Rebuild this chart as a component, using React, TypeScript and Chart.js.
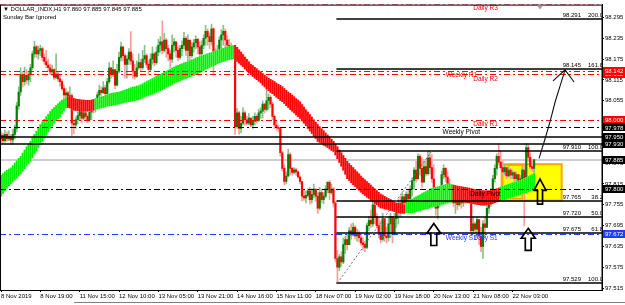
import React, { useEffect, useRef } from 'react';
import { Chart, registerables } from 'chart.js';

Chart.register(...registerables);

// ---------------- DATA ----------------
const firstOpen = 97.945;

const closes = [
  97.955, 97.940, 97.958, 97.945, 97.952, 97.942, 97.958, 97.975, 98.040, 98.080,
  98.130, 98.110, 98.128, 98.115, 98.130, 98.150, 98.190, 98.210, 98.190, 98.200,
  98.205, 98.180, 98.168, 98.158, 98.150, 98.138, 98.145, 98.122, 98.132, 98.118,
  98.110, 98.090, 98.072, 98.078, 98.060, 98.070, 97.990, 97.985, 98.000, 98.012,
  98.030, 98.005, 98.020, 98.010, 98.000, 98.022, 98.035, 98.030, 98.052, 98.072,
  98.085, 98.078, 98.092, 98.075, 98.110, 98.150, 98.130, 98.145, 98.100, 98.140,
  98.180, 98.210, 98.185, 98.160, 98.175, 98.195, 98.170, 98.140, 98.125, 98.150,
  98.165, 98.150, 98.175, 98.185, 98.160, 98.145, 98.175, 98.190, 98.165, 98.195,
  98.215, 98.225, 98.200, 98.230, 98.205, 98.190, 98.175, 98.215, 98.225, 98.200,
  98.180, 98.205, 98.215, 98.235, 98.200, 98.230, 98.185, 98.210, 98.222, 98.232,
  98.210, 98.190, 98.215, 98.235, 98.255, 98.240, 98.225, 98.262, 98.160, 98.175,
  98.200, 98.230, 98.245, 98.255, 98.230, 98.215, 98.210, 98.198, 98.185, 97.980,
  98.020, 97.975, 97.990, 98.020, 98.000, 97.990, 98.005, 97.985, 97.995, 98.010,
  97.998, 98.020, 98.025, 98.045, 98.030, 98.055, 98.065, 98.045, 98.010, 97.985,
  97.978, 97.975, 97.905, 97.860, 97.822, 97.838, 97.900, 97.860, 97.848, 97.856,
  97.850, 97.835, 97.822, 97.780, 97.775, 97.782, 97.795, 97.770, 97.785, 97.800,
  97.780, 97.745, 97.790, 97.770, 97.780, 97.800, 97.820, 97.790, 97.800, 97.760,
  97.600, 97.575, 97.605, 97.590, 97.640, 97.655, 97.640, 97.680, 97.668, 97.690,
  97.665, 97.672, 97.660, 97.645, 97.640, 97.632, 97.695, 97.710, 97.700, 97.755,
  97.720, 97.695, 97.675, 97.655, 97.715, 97.665, 97.660, 97.700, 97.722, 97.670,
  97.715, 97.735, 97.760, 97.745, 97.778, 97.760, 97.785, 97.772, 97.800, 97.825,
  97.855, 97.830, 97.895, 97.860, 97.820, 97.865, 97.845, 97.890, 97.862, 97.830,
  97.770, 97.745, 97.755, 97.795, 97.842, 97.860, 97.835, 97.815, 97.800, 97.775,
  97.760, 97.785, 97.755, 97.778, 97.760, 97.772, 97.782, 97.768, 97.785, 97.680,
  97.700, 97.685, 97.712, 97.665, 97.635, 97.700, 97.690, 97.745, 97.770, 97.795,
  97.830, 97.860, 97.895, 97.878, 97.862, 97.850, 97.862, 97.838, 97.855, 97.840,
  97.848, 97.830, 97.842, 97.815, 97.830, 97.855, 97.830, 97.920, 97.892, 97.865,
  97.860, 97.885,
];

const highs = [
  97.965, 97.962, 97.970, 97.965, 97.968, 97.958, 97.972, 97.985, 98.050, 98.095,
  98.150, 98.140, 98.152, 98.145, 98.140, 98.160, 98.198, 98.226, 98.215, 98.212,
  98.215, 98.210, 98.190, 98.200, 98.175, 98.160, 98.158, 98.148, 98.190, 98.140,
  98.128, 98.115, 98.100, 98.090, 98.082, 98.095, 98.075, 97.998, 98.008, 98.022,
  98.036, 98.032, 98.028, 98.025, 98.015, 98.030, 98.042, 98.040, 98.062, 98.080,
  98.100, 98.095, 98.110, 98.100, 98.120, 98.165, 98.150, 98.170, 98.140, 98.160,
  98.195, 98.224, 98.210, 98.190, 98.185, 98.205, 98.254, 98.190, 98.160, 98.170,
  98.190, 98.175, 98.200, 98.215, 98.190, 98.170, 98.190, 98.210, 98.195, 98.210,
  98.232, 98.240, 98.285, 98.250, 98.235, 98.215, 98.200, 98.245, 98.235, 98.225,
  98.210, 98.215, 98.228, 98.252, 98.240, 98.245, 98.220, 98.222, 98.232, 98.242,
  98.235, 98.225, 98.228, 98.245, 98.272, 98.262, 98.250, 98.276, 98.265, 98.205,
  98.215, 98.240, 98.260, 98.272, 98.262, 98.242, 98.232, 98.222, 98.212, 98.200,
  98.033, 98.025, 98.010, 98.035, 98.025, 98.010, 98.018, 98.005, 98.010, 98.020,
  98.015, 98.030, 98.035, 98.055, 98.048, 98.095, 98.075, 98.070, 98.050, 98.015,
  97.995, 97.985, 97.978, 97.909, 97.870, 97.850, 97.915, 97.905, 97.862, 97.862,
  97.860, 97.852, 97.838, 97.822, 97.800, 97.795, 97.802, 97.805, 97.800, 97.815,
  97.800, 97.790, 97.805, 97.800, 97.790, 97.810, 97.822, 97.825, 97.815, 97.805,
  97.765, 97.624, 97.612, 97.620, 97.660, 97.665, 97.670, 97.690, 97.700, 97.702,
  97.695, 97.685, 97.680, 97.672, 97.660, 97.650, 97.702, 97.722, 97.740, 97.762,
  97.745, 97.730, 97.718, 97.708, 97.730, 97.705, 97.690, 97.720, 97.730, 97.712,
  97.730, 97.742, 97.770, 97.780, 97.790, 97.785, 97.792, 97.800, 97.810, 97.832,
  97.862, 97.880, 97.902, 97.900, 97.890, 97.880, 97.880, 97.910, 97.910, 97.900,
  97.870, 97.800, 97.790, 97.802, 97.852, 97.870, 97.862, 97.850, 97.830, 97.810,
  97.800, 97.790, 97.785, 97.790, 97.780, 97.780, 97.790, 97.790, 97.792, 97.790,
  97.720, 97.705, 97.720, 97.705, 97.690, 97.710, 97.720, 97.760, 97.780, 97.802,
  97.840, 97.870, 97.902, 97.932, 97.910, 97.880, 97.870, 97.862, 97.865, 97.860,
  97.855, 97.850, 97.850, 97.842, 97.840, 97.862, 97.870, 97.932, 97.930, 97.905,
  97.885, 97.885,
];

const lows = [
  97.935, 97.932, 97.935, 97.938, 97.940, 97.930, 97.928, 97.945, 97.965, 98.030,
  98.070, 98.095, 98.100, 98.105, 98.100, 98.110, 98.145, 98.180, 98.180, 98.175,
  98.185, 98.170, 98.160, 98.150, 98.140, 98.130, 98.128, 98.115, 98.118, 98.110,
  98.098, 98.085, 98.060, 98.062, 98.052, 98.055, 97.955, 97.960, 97.975, 97.988,
  98.000, 97.990, 98.000, 98.000, 97.992, 97.995, 98.000, 98.020, 98.022, 98.045,
  98.060, 98.070, 98.075, 98.065, 98.072, 98.105, 98.120, 98.125, 98.090, 98.098,
  98.135, 98.170, 98.170, 98.120, 98.120, 98.160, 98.160, 98.120, 98.118, 98.122,
  98.145, 98.140, 98.145, 98.165, 98.150, 98.130, 98.140, 98.160, 98.155, 98.160,
  98.185, 98.195, 98.190, 98.195, 98.180, 98.170, 98.150, 98.165, 98.195, 98.180,
  98.170, 98.175, 98.185, 98.205, 98.185, 98.170, 98.160, 98.180, 98.195, 98.205,
  98.190, 98.170, 98.185, 98.205, 98.215, 98.215, 98.205, 98.215, 98.133, 98.158,
  98.165, 98.185, 98.205, 98.215, 98.205, 98.195, 98.195, 98.185, 98.176, 97.958,
  97.976, 97.958, 97.962, 97.985, 97.985, 97.985, 97.985, 97.980, 97.975, 97.985,
  97.990, 97.995, 98.005, 98.005, 98.020, 98.025, 98.030, 98.035, 98.000, 97.975,
  97.970, 97.965, 97.895, 97.852, 97.812, 97.815, 97.835, 97.840, 97.840, 97.845,
  97.840, 97.832, 97.815, 97.766, 97.768, 97.760, 97.778, 97.757, 97.760, 97.775,
  97.765, 97.730, 97.740, 97.760, 97.758, 97.775, 97.790, 97.770, 97.785, 97.748,
  97.590, 97.529, 97.565, 97.578, 97.585, 97.615, 97.625, 97.640, 97.655, 97.665,
  97.658, 97.650, 97.648, 97.638, 97.625, 97.620, 97.628, 97.680, 97.690, 97.692,
  97.700, 97.688, 97.660, 97.645, 97.650, 97.650, 97.645, 97.650, 97.660, 97.645,
  97.668, 97.690, 97.700, 97.720, 97.735, 97.740, 97.750, 97.760, 97.768, 97.780,
  97.800, 97.820, 97.828, 97.840, 97.805, 97.820, 97.838, 97.840, 97.845, 97.820,
  97.760, 97.725, 97.714, 97.748, 97.785, 97.830, 97.820, 97.800, 97.790, 97.760,
  97.750, 97.730, 97.740, 97.750, 97.745, 97.750, 97.760, 97.760, 97.760, 97.665,
  97.670, 97.670, 97.660, 97.640, 97.620, 97.600, 97.660, 97.690, 97.730, 97.750,
  97.780, 97.820, 97.840, 97.870, 97.858, 97.840, 97.840, 97.830, 97.835, 97.830,
  97.830, 97.820, 97.812, 97.800, 97.800, 97.800, 97.695, 97.824, 97.880, 97.858,
  97.852, 97.845,
];

// smoothed trend ribbon (open / close of each bar)
const ribOpen = [
  97.780, 97.787, 97.795, 97.803, 97.810, 97.815, 97.821, 97.827, 97.832, 97.838,
  97.844, 97.851, 97.859, 97.867, 97.874, 97.881, 97.891, 97.901, 97.910, 97.920,
  97.929, 97.938, 97.947, 97.956, 97.966, 97.975, 97.982, 97.990, 97.997, 98.003,
  98.009, 98.018, 98.026, 98.034,
  98.066, 98.066, 98.064, 98.062, 98.060, 98.059, 98.058, 98.057, 98.057, 98.056, 98.056, 98.056, 98.057, 98.058,
  98.030, 98.031, 98.033, 98.034, 98.036, 98.037, 98.039, 98.040, 98.041, 98.042,
  98.043, 98.044, 98.045, 98.047, 98.048, 98.050, 98.051, 98.052, 98.053, 98.054,
  98.055, 98.057, 98.058, 98.061, 98.063, 98.066, 98.068, 98.070, 98.072, 98.074,
  98.076, 98.079, 98.081, 98.084, 98.087, 98.090, 98.093, 98.096, 98.099, 98.102,
  98.105, 98.108, 98.110, 98.112, 98.115, 98.117, 98.119, 98.122, 98.124, 98.126,
  98.128, 98.131, 98.133, 98.136, 98.139, 98.142, 98.145, 98.148, 98.151, 98.154,
  98.156, 98.158, 98.162, 98.164, 98.166, 98.168, 98.170, 98.172, 98.173, 98.175,
  98.176,
  98.215, 98.209, 98.202, 98.195, 98.188, 98.181, 98.174, 98.167, 98.160, 98.156,
  98.151, 98.147, 98.142, 98.138, 98.133, 98.129, 98.124, 98.120, 98.117, 98.113,
  98.110, 98.106, 98.102, 98.099, 98.095, 98.090, 98.085, 98.080, 98.076, 98.071,
  98.066, 98.061, 98.057, 98.052, 98.044, 98.037, 98.029, 98.022, 98.015, 98.008,
  98.000, 97.993, 97.986, 97.980, 97.974, 97.968, 97.962, 97.956, 97.950, 97.944,
  97.938, 97.930, 97.922, 97.913, 97.905, 97.897, 97.889, 97.880, 97.874, 97.868,
  97.862, 97.856, 97.850, 97.844, 97.838, 97.832, 97.827, 97.822, 97.817, 97.812,
  97.806, 97.801, 97.796, 97.791, 97.786, 97.783, 97.779, 97.776, 97.773, 97.770,
  97.766, 97.763, 97.760, 97.759, 97.758, 97.756, 97.755,
  97.732, 97.732, 97.732, 97.732, 97.733, 97.735, 97.737, 97.738, 97.740, 97.741,
  97.743, 97.744, 97.746, 97.748, 97.750, 97.751, 97.753, 97.754, 97.756, 97.757,
  97.759, 97.760, 97.762, 97.764,
  97.812, 97.810, 97.809, 97.808, 97.807, 97.806, 97.805, 97.804, 97.803, 97.801,
  97.800, 97.799, 97.798, 97.797, 97.796, 97.796, 97.795, 97.795, 97.795, 97.796,
  97.797, 97.799, 97.801, 97.803,
  97.766, 97.768, 97.770, 97.772, 97.774, 97.775, 97.777, 97.779, 97.780, 97.782,
  97.784, 97.786, 97.788, 97.790, 97.792, 97.795, 97.797, 97.800,
];

const ribClose = [
  97.840, 97.845, 97.850, 97.854, 97.858, 97.861, 97.868, 97.875, 97.882, 97.889,
  97.895, 97.904, 97.913, 97.922, 97.930, 97.938, 97.948, 97.958, 97.967, 97.977,
  97.986, 97.994, 98.001, 98.009, 98.016, 98.024, 98.030, 98.035, 98.041, 98.046,
  98.052, 98.056, 98.060, 98.064,
  98.036, 98.034, 98.030, 98.028, 98.027, 98.026, 98.026, 98.025, 98.025, 98.025, 98.025, 98.026, 98.027, 98.028,
  98.060, 98.062, 98.064, 98.066, 98.068, 98.070, 98.072, 98.074, 98.076, 98.077,
  98.078, 98.079, 98.080, 98.082, 98.084, 98.086, 98.088, 98.090, 98.092, 98.094,
  98.095, 98.097, 98.098, 98.101, 98.104, 98.107, 98.110, 98.113, 98.116, 98.119,
  98.122, 98.125, 98.128, 98.131, 98.134, 98.137, 98.140, 98.143, 98.146, 98.149,
  98.152, 98.155, 98.157, 98.159, 98.161, 98.164, 98.166, 98.168, 98.171, 98.173,
  98.175, 98.178, 98.180, 98.182, 98.184, 98.186, 98.188, 98.190, 98.192, 98.194,
  98.196, 98.198, 98.200, 98.202, 98.204, 98.206, 98.208, 98.210, 98.212, 98.213,
  98.214,
  98.172, 98.168, 98.163, 98.158, 98.153, 98.147, 98.141, 98.135, 98.130, 98.125,
  98.120, 98.116, 98.111, 98.106, 98.100, 98.095, 98.089, 98.084, 98.079, 98.075,
  98.070, 98.065, 98.061, 98.056, 98.052, 98.047, 98.041, 98.036, 98.030, 98.025,
  98.020, 98.014, 98.009, 98.004, 97.997, 97.990, 97.983, 97.975, 97.968, 97.961,
  97.953, 97.946, 97.938, 97.935, 97.931, 97.927, 97.924, 97.920, 97.916, 97.912,
  97.909, 97.899, 97.888, 97.877, 97.866, 97.855, 97.843, 97.830, 97.825, 97.819,
  97.813, 97.808, 97.802, 97.797, 97.791, 97.786, 97.782, 97.777, 97.773, 97.768,
  97.764, 97.759, 97.755, 97.750, 97.746, 97.745, 97.743, 97.742, 97.740, 97.739,
  97.737, 97.735, 97.732, 97.732, 97.731, 97.731, 97.730,
  97.760, 97.764, 97.768, 97.771, 97.775, 97.778, 97.781, 97.784, 97.787, 97.790,
  97.793, 97.796, 97.800, 97.802, 97.803, 97.805, 97.807, 97.808, 97.810, 97.812,
  97.813, 97.815, 97.814, 97.813,
  97.768, 97.767, 97.766, 97.765, 97.764, 97.763, 97.762, 97.761, 97.760, 97.759,
  97.758, 97.757, 97.756, 97.755, 97.754, 97.754, 97.754, 97.755, 97.755, 97.757,
  97.759, 97.761, 97.763, 97.764,
  97.806, 97.808, 97.810, 97.812, 97.814, 97.816, 97.818, 97.820, 97.821, 97.823,
  97.825, 97.828, 97.830, 97.833, 97.836, 97.839, 97.842, 97.845,
];

const slotCount = 306; // bar slots on the time axis (incl. chart shift)
const tickEvery = 20;
const tickLabels = [
  '8 Nov 2019', '8 Nov 19:00', '11 Nov 15:00', '12 Nov 10:00', '13 Nov 05:00',
  '13 Nov 21:00', '14 Nov 16:00', '15 Nov 11:00', '18 Nov 07:00', '19 Nov 02:00',
  '19 Nov 18:00', '20 Nov 13:00', '21 Nov 08:00', '22 Nov 03:00',
];
const yTickValues = [
  98.295, 98.235, 98.175, 98.115, 98.055, 97.995, 97.935, 97.875,
  97.815, 97.755, 97.695, 97.635, 97.575, 97.515,
];
const yMin = 97.5093;
const yMax = 98.3321;

const pivotNames = ['Daily R3', 'Weekly R1', 'Daily R2', 'Daily R1', 'Weekly Pivot', 'Daily Pivot', 'Weekly S1', 'Daily S1'];
const pivotValues = [98.334, 98.142, 98.132, 98.000, 97.978, 97.800, 97.672, 97.671];
const weeklyLabelBar = 234;
const dailyLabelBar = 246.3;

const srLevels = [97.950, 97.930];
const bidPrice = 97.885;

const fibStartBar = 171;
const fibPrices = [98.291, 98.145, 97.910, 97.765, 97.720, 97.675, 97.529];
const fibPercents = ['200.0', '161.8', '100.0', '38.2', '50.0', '61.8', '100.0'];
const fibTrend = [[171, 97.529], [219, 97.910]];

const zoneBars = [255, 285];
const zoneInnerBars = [255, 265];
const zonePrices = [97.872, 97.767];

const arrowBars = [220, 268, 274];
const arrowPrices = [97.701, 97.687, 97.829];

const curvePath = [[273.5, 97.889], [276.6, 97.946], [279.1, 97.995], [281.7, 98.052], [284.2, 98.098], [286.7, 98.144]];
const curveHead = [[280.6, 98.112], [286.7, 98.144], [291.3, 98.109]];

const tagPrices = [98.132, 98.142, 98.000, 97.978, 97.950, 97.930, 97.885, 97.800, 97.672];
const titleText = '\u25BC DOLLAR_INDX,H1 97.860 97.885 97.845 97.885';
const subTitle = 'Sunday Bar Ignored';

// ---------------- STYLE ----------------
const FONT = '"Liberation Sans", Arial, sans-serif';
const RED = '#ff0000';
const BLUE = '#1f3dff';
const DASHDOT = [6, 3, 2, 3];
const tagColors = [RED, RED, RED, '#000', '#000', '#000', '#000', '#000', BLUE];

function pivotColor(name: string) {
  if (name.includes('R')) return RED;
  if (name.includes('S')) return BLUE;
  return '#000';
}

const overlay = {
  id: 'mt4overlay',
  beforeDraw(chart: any) {
    const ctx = chart.ctx;
    ctx.save();
    ctx.fillStyle = '#fff';
    ctx.fillRect(0, 0, chart.width, chart.height);
    ctx.restore();
  },
  beforeDatasetsDraw(chart: any) {
    const { ctx, chartArea: a, scales } = chart;
    const X = (v: number) => scales.x.getPixelForValue(v);
    const Y = (v: number) => scales.y.getPixelForValue(v);
    ctx.save();
    ctx.beginPath();
    ctx.rect(a.left, a.top, a.right - a.left, a.bottom - a.top);
    ctx.clip();
    // bid line
    ctx.strokeStyle = '#cdcdcd';
    ctx.lineWidth = 2;
    ctx.beginPath();
    const yb = Math.round(Y(bidPrice));
    ctx.moveTo(a.left, yb);
    ctx.lineTo(a.right, yb);
    ctx.stroke();
    // yellow zone
    const x1 = X(zoneBars[0]) - 1;
    const x2 = X(zoneBars[1]);
    const y1 = Y(zonePrices[0]);
    const y2 = Y(zonePrices[1]);
    ctx.fillStyle = '#ffff00';
    ctx.fillRect(x1, y1, x2 - x1, y2 - y1);
    ctx.strokeStyle = '#ffa500';
    ctx.lineWidth = 2;
    ctx.strokeRect(x1, y1, x2 - x1, y2 - y1);
    const xi2 = X(zoneInnerBars[1]);
    ctx.lineWidth = 1.5;
    ctx.strokeRect(x1 + 1, y1 + 1, xi2 - x1 - 1, y2 - y1 - 3);
    ctx.restore();
  },
  afterDatasetsDraw(chart: any) {
    const { ctx, chartArea: a, scales } = chart;
    const X = (v: number) => scales.x.getPixelForValue(v);
    const Y = (v: number) => scales.y.getPixelForValue(v);
    const crisp = (v: number) => Math.round(v) + 0.5;
    ctx.save();
    ctx.beginPath();
    ctx.rect(a.left, a.top, a.right - a.left, a.bottom - a.top);
    ctx.clip();

    // pivot lines
    pivotNames.forEach((name, i) => {
      const y = crisp(Y(pivotValues[i]));
      ctx.strokeStyle = pivotColor(name);
      ctx.lineWidth = 1;
      ctx.setLineDash(DASHDOT);
      ctx.beginPath();
      ctx.moveTo(a.left, y);
      ctx.lineTo(a.right, y);
      ctx.stroke();
    });
    ctx.setLineDash([]);

    // support/resistance lines
    srLevels.forEach((v) => {
      const y = Math.round(Y(v));
      ctx.strokeStyle = '#000';
      ctx.lineWidth = 1.6;
      ctx.beginPath();
      ctx.moveTo(a.left, y);
      ctx.lineTo(a.right, y);
      ctx.stroke();
    });

    // fibonacci
    const fx = X(fibStartBar) - 1;
    ctx.font = '6px ' + FONT;
    ctx.textBaseline = 'alphabetic';
    fibPrices.forEach((v, i) => {
      const y = Math.round(Y(v));
      ctx.strokeStyle = '#000';
      ctx.lineWidth = 1.6;
      ctx.beginPath();
      ctx.moveTo(fx, y);
      ctx.lineTo(a.right, y);
      ctx.stroke();
      ctx.fillStyle = '#000';
      ctx.textAlign = 'right';
      ctx.fillText(v.toFixed(3), a.right - 21, y - 2);
      ctx.fillText(fibPercents[i], a.right + 1, y - 2);
    });

    // fib trend (dotted)
    ctx.strokeStyle = '#707070';
    ctx.lineWidth = 1;
    ctx.setLineDash([2, 2]);
    ctx.beginPath();
    ctx.moveTo(X(fibTrend[0][0]), Y(fibTrend[0][1]));
    ctx.lineTo(X(fibTrend[1][0]), Y(fibTrend[1][1]));
    ctx.stroke();
    ctx.setLineDash([]);

    // pivot texts
    ctx.font = '6.5px ' + FONT;
    ctx.textAlign = 'center';
    ctx.textBaseline = 'top';
    pivotNames.forEach((name, i) => {
      const bar = name.startsWith('Weekly') ? weeklyLabelBar : dailyLabelBar;
      ctx.fillStyle = pivotColor(name);
      ctx.fillText(name, X(bar), Y(pivotValues[i]) + 1.5);
    });

    // hollow up arrows
    arrowBars.forEach((bar, i) => {
      const cx = X(bar);
      const top = Y(arrowPrices[i]);
      const w = i === 2 ? 12 : 14;
      const h = i === 2 ? 25 : 22;
      const hh = h * 0.45;
      const sw = w * 0.42;
      ctx.beginPath();
      ctx.moveTo(cx, top);
      ctx.lineTo(cx + w / 2, top + hh);
      ctx.lineTo(cx + sw / 2, top + hh);
      ctx.lineTo(cx + sw / 2, top + h);
      ctx.lineTo(cx - sw / 2, top + h);
      ctx.lineTo(cx - sw / 2, top + hh);
      ctx.lineTo(cx - w / 2, top + hh);
      ctx.closePath();
      ctx.strokeStyle = '#000';
      ctx.lineWidth = 1.7;
      ctx.lineJoin = 'miter';
      ctx.stroke();
    });

    // curved projection arrow
    ctx.strokeStyle = '#111';
    ctx.lineWidth = 1.1;
    ctx.beginPath();
    curvePath.forEach(([b, p], i) => {
      if (i === 0) ctx.moveTo(X(b), Y(p));
      else ctx.lineTo(X(b), Y(p));
    });
    ctx.stroke();
    ctx.beginPath();
    curveHead.forEach(([b, p], i) => {
      if (i === 0) ctx.moveTo(X(b), Y(p));
      else ctx.lineTo(X(b), Y(p));
    });
    ctx.stroke();

    ctx.restore();
  },
  afterDraw(chart: any) {
    const { ctx, chartArea: a, scales } = chart;
    const Y = (v: number) => scales.y.getPixelForValue(v);
    ctx.save();
    // frame
    ctx.strokeStyle = '#000';
    ctx.lineWidth = 1;
    ctx.strokeRect(a.left + 0.5, a.top + 0.5, a.right - a.left - 0.5, a.bottom - a.top);
    // chart shift marker
    ctx.fillStyle = '#a0a0a0';
    ctx.beginPath();
    ctx.moveTo(a.left + 537, a.top + 1);
    ctx.lineTo(a.left + 543, a.top + 1);
    ctx.lineTo(a.left + 540, a.top + 5);
    ctx.closePath();
    ctx.fill();
    // price tags
    ctx.font = '6px ' + FONT;
    ctx.textBaseline = 'middle';
    ctx.textAlign = 'left';
    tagPrices.forEach((v, i) => {
      const y = Y(v);
      ctx.fillStyle = tagColors[i];
      ctx.fillRect(a.right + 1, Math.round(y) - 4, 22, 8);
      ctx.fillStyle = '#fff';
      ctx.fillText(v.toFixed(3), a.right + 3, y + 0.5);
    });
    // title
    ctx.fillStyle = '#000';
    ctx.font = '6px ' + FONT;
    ctx.textBaseline = 'middle';
    ctx.fillText(titleText, a.left + 3, a.top + 5);
    ctx.fillText(subTitle, a.left + 3, a.top + 13);
    // bottom tab strip
    ctx.strokeStyle = '#808080';
    ctx.beginPath();
    ctx.moveTo(74, 302.5);
    ctx.lineTo(chart.width, 302.5);
    ctx.stroke();
    ctx.restore();
  },
};

export default function App() {
  const ref = useRef<HTMLCanvasElement>(null);
  useEffect(() => {
    document.body.style.margin = '0';
    const canvas = ref.current as HTMLCanvasElement;
    const opens = closes.map((c, i) => (i === 0 ? firstOpen : closes[i - 1]));
    const bull = closes.map((c, i) => c >= opens[i]);
    const ribUp = ribClose.map((c, i) => c >= ribOpen[i]);
    const ribData = ribOpen.map((o, i) => [o, ribClose[i]]);
    const slots = Array.from({ length: slotCount }, (_, i) => String(i));
    const axisFont = { family: FONT, size: 6 };

    const chart = new Chart(canvas, {
      type: 'bar',
      data: {
        labels: slots,
        datasets: [
          {
            label: 'wicks',
            data: lows.map((l, i) => [l, highs[i]]),
            backgroundColor: bull.map((b) => (b ? '#86c486' : '#ff9c9c')),
            barThickness: 1,
            grouped: false,
            order: 4,
          },
          {
            label: 'bodies',
            data: opens.map((o, i) => [o, closes[i]]),
            backgroundColor: bull.map((b) => (b ? '#008000' : '#ff0000')),
            barThickness: 1.5,
            minBarLength: 1,
            grouped: false,
            order: 3,
          },
          {
            label: 'ribbon fill',
            data: ribData,
            backgroundColor: ribUp.map((u) => (u ? '#a6ffa6' : '#ff8c8c')),
            barThickness: 2,
            grouped: false,
            order: 2,
          },
          {
            label: 'ribbon',
            data: ribData,
            backgroundColor: ribUp.map((u) => (u ? '#00f000' : '#ff0000')),
            barThickness: 1,
            grouped: false,
            order: 1,
          },
        ] as any,
      },
      options: {
        animation: false,
        responsive: false,
        maintainAspectRatio: false,
        devicePixelRatio: 1,
        layout: { padding: { top: 2, left: 0, right: 0, bottom: 0 } },
        plugins: { legend: { display: false }, tooltip: { enabled: false } },
        scales: {
          x: {
            type: 'category',
            offset: true,
            grid: {
              display: true,
              drawOnChartArea: false,
              drawTicks: true,
              tickLength: 2,
              offset: false,
              color: (c: any) =>
                c.index % tickEvery === 0 && c.index / tickEvery < tickLabels.length ? '#000' : 'rgba(0,0,0,0)',
            },
            border: { display: true, color: '#000' },
            ticks: {
              autoSkip: false,
              maxRotation: 0,
              minRotation: 0,
              align: 'start',
              padding: 1,
              color: '#000',
              font: axisFont,
              callback: (_v: any, i: number) =>
                i % tickEvery === 0 ? tickLabels[i / tickEvery] || '' : '',
            },
            afterFit: (s: any) => {
              s.height = 15;
            },
          },
          y: {
            position: 'right',
            min: yMin,
            max: yMax,
            afterBuildTicks: (s: any) => {
              s.ticks = yTickValues.map((v) => ({ value: v }));
            },
            grid: { drawOnChartArea: false, drawTicks: true, tickLength: 2, color: '#000' },
            border: { display: true, color: '#000' },
            ticks: {
              padding: 1,
              color: '#000',
              font: axisFont,
              callback: (v: any) => Number(v).toFixed(3),
            },
            afterFit: (s: any) => {
              s.width = 23;
            },
          },
        },
      } as any,
      plugins: [overlay],
    });
    return () => chart.destroy();
  }, []);
  return <canvas ref={ref} width={625} height={305} style={{ display: 'block', width: 625, height: 305 }} />;
}
